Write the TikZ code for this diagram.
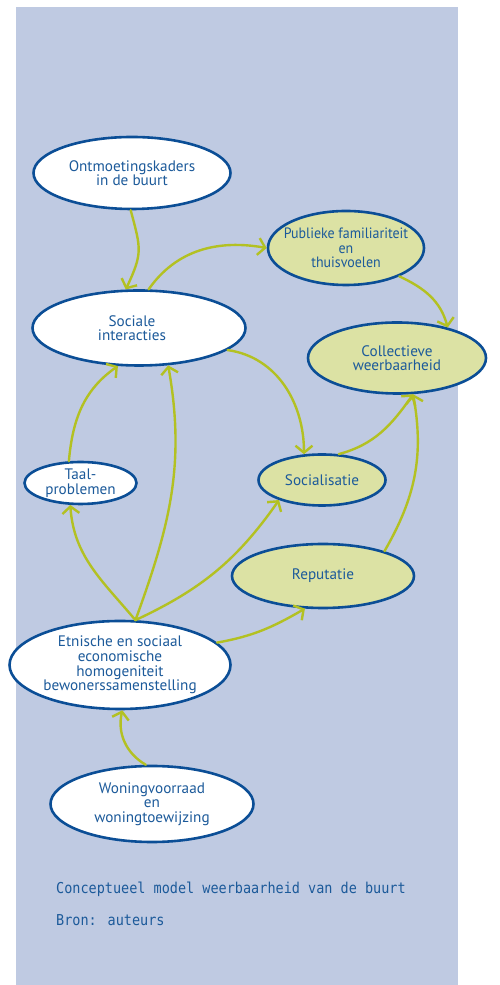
\documentclass[tikz,border=0pt]{standalone}
\usepackage{fontspec}
\setmainfont{PT Sans}
\newfontfamily\narrowfont[FakeStretch=0.93]{PT Sans}
\newfontfamily\capfont[FakeStretch=0.9]{DejaVu Sans Mono}
\usetikzlibrary{shapes.geometric,arrows.meta}
\definecolor{panel}{HTML}{BFCAE2}
\definecolor{edgeblue}{HTML}{0B4E96}
\definecolor{txtblue}{HTML}{1C5A9A}
\definecolor{greenfill}{HTML}{DCE2A4}
\definecolor{arrowgreen}{HTML}{B3C122}
\begin{document}
\begin{tikzpicture}[x=1pt,y=1pt,
  bub/.style={ellipse, draw=edgeblue, line width=2.6pt, fill=white, inner sep=0pt,
    align=center, text=txtblue, font=\fontsize{15.2}{14.6}\selectfont},
  gbub/.style={bub, fill=greenfill},
  link/.style={draw=arrowgreen, line width=2.4pt, line cap=round,
    -{Straight Barb[length=7pt,width=17pt]}},
  captxt/.style={anchor=base west, inner sep=0pt, text=txtblue,
    font=\capfont\fontsize{15}{15}\selectfont}]
\useasboundingbox (0,0) rectangle (499,985);
\fill[panel] (16,0) rectangle (458,978);

\node[bub, minimum width=197pt, minimum height=72pt] (ont) at (132,812) {Ontmoetingskaders\\in de buurt};
\node[gbub, minimum width=156pt, minimum height=74pt, inner xsep=-22pt, font=\narrowfont\fontsize{15}{14.4}\selectfont] (pub) at (346,737) {Publieke familiariteit\\en\\thuisvoelen};
\node[bub, minimum width=213pt, minimum height=75pt] (soc) at (139,657) {Sociale\hspace*{14pt}\\interacties\hspace*{14pt}};
\node[gbub, minimum width=178pt, minimum height=71pt] (col) at (397,627) {Collectieve\\weerbaarheid};
\node[bub, minimum width=112pt, minimum height=42pt] (taal) at (80.5,502) {Taal-\\problemen};
\node[gbub, minimum width=127pt, minimum height=51pt] (sos) at (322,505) {Socialisatie};
\node[gbub, minimum width=182pt, minimum height=64pt] (rep) at (323,409) {Reputatie};
\node[bub, minimum width=221pt, minimum height=88pt] (etn) at (120,320) {Etnische en sociaal\\economische\\homogeniteit\\bewonerssamenstelling};
\node[bub, minimum width=203pt, minimum height=76pt] (won) at (152,181) {Woningvoorraad\\en\\woningtoewijzing};

\draw[link] (ont.-92) to[out=-75,in=65,looseness=1.3] (soc.109);
\draw[link] (soc.76) to[out=55,in=170] (pub.180);
\draw[link] (pub.-28) to[out=-25,in=105] (col.31);
\draw[link] (soc.-14) to[out=-8,in=90] (sos.125);
\draw[link] (sos.57) to[out=15,in=-125] (col.-66);
\draw[link] (rep.22) to[out=60,in=-80] (col.-66);
\draw[link] (taal.118) to[out=85,in=-145] (soc.-119);
\draw[link] (etn.71) to[out=70,in=-80] (soc.-52);
\draw[link] (etn.71) to[out=130,in=-86] (taal.-115);
\draw[link] (etn.71) to[out=25,in=-125] (sos.-155);
\draw[link] (etn.13) to[out=10,in=-150] (rep.-119);
\draw[link] (won.99) to[out=150,in=-103] (etn.-87);

\node[captxt] (cap) at (56,91) {Conceptueel model weerbaarheid van de buurt};
\node[captxt] (src) at (56,59) {Bron: auteurs};
\end{tikzpicture}
\end{document}
